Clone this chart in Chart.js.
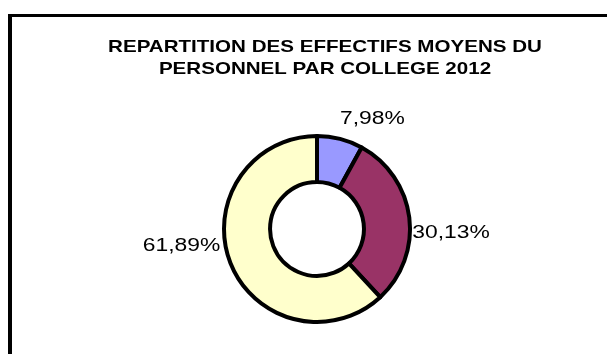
<!DOCTYPE html>
<html>
<head>
<meta charset="utf-8">
<script src="https://cdn.jsdelivr.net/npm/chart.js@4.4.1/dist/chart.umd.min.js"></script>
<style>
  html, body { margin: 0; padding: 0; background: #ffffff; }
  #wrap { width: 607px; height: 354px; position: relative; }
  canvas { display: block; }
</style>
</head>
<body>
<div id="wrap"><canvas id="chart" width="607" height="354"></canvas></div>
<script>
// Average staff split by college, 2012 (percent)
const categories = ['Collège 1', 'Collège 2', 'Collège 3'];
const shares = [7.98, 30.13, 61.89];
const sliceColors = ['#9999FF', '#993366', '#FFFFCC'];
const titleLines = ['REPARTITION DES EFFECTIFS MOYENS DU', 'PERSONNEL PAR COLLEGE 2012'];

const fmtPct = v => v.toFixed(2).replace('.', ',') + '%';

// Text drawn with a horizontal stretch (wide lettering)
function wideText(ctx, text, x, y, stretch) {
  ctx.save();
  ctx.translate(x, y);
  ctx.scale(stretch, 1);
  ctx.fillText(text, 0, 0);
  ctx.restore();
}

// Frame lines (top and left edge of the chart box) and the two-line title
const framePlugin = {
  id: 'frameAndTitle',
  beforeDraw(chart, args, opts) {
    const ctx = chart.ctx;
    ctx.save();
    ctx.fillStyle = '#ffffff';
    ctx.fillRect(0, 0, chart.width, chart.height);
    ctx.fillStyle = '#000000';
    ctx.fillRect(8, 14, chart.width - 8, 3);
    ctx.fillRect(8, 14, 4, chart.height - 14);
    ctx.restore();
  },
  afterDraw(chart, args, opts) {
    const ctx = chart.ctx;
    ctx.save();
    ctx.fillStyle = '#000000';
    ctx.font = opts.font;
    ctx.textAlign = 'center';
    ctx.textBaseline = 'alphabetic';
    opts.lines.forEach((t, i) => {
      wideText(ctx, t, opts.x, opts.y + i * opts.lineHeight, opts.stretch);
    });
    ctx.restore();
  }
};

// Percentage labels placed outside each slice, from the arc geometry
const pctLabels = {
  id: 'pctLabels',
  afterDatasetsDraw(chart, args, opts) {
    const ctx = chart.ctx;
    const meta = chart.getDatasetMeta(0);
    ctx.save();
    ctx.font = opts.font;
    ctx.fillStyle = '#000000';
    ctx.textBaseline = 'middle';
    meta.data.forEach((arc, i) => {
      const p = arc.getProps(['x', 'y', 'startAngle', 'endAngle', 'outerRadius'], true);
      const mid = (p.startAngle + p.endAngle) / 2;
      const r = p.outerRadius + opts.gap;
      const off = opts.nudge[i] || [0, 0];
      const ax = p.x + Math.cos(mid) * r + off[0];
      const ay = p.y + Math.sin(mid) * r + off[1];
      ctx.textAlign = Math.cos(mid) >= 0 ? 'left' : 'right';
      wideText(ctx, fmtPct(chart.data.datasets[0].data[i]), ax, ay, opts.stretch);
    });
    ctx.restore();
  }
};

new Chart(document.getElementById('chart'), {
  type: 'doughnut',
  data: {
    labels: categories,
    datasets: [{
      data: shares,
      backgroundColor: sliceColors,
      borderColor: '#000000',
      borderWidth: 4,
      borderJoinStyle: 'round'
    }]
  },
  options: {
    responsive: false,
    animation: false,
    radius: 93,
    cutout: '50.5%',
    layout: { padding: { left: 27, right: 0, top: 104, bottom: 0 } },
    plugins: {
      legend: { display: false },
      tooltip: { enabled: false },
      title: { display: false },
      frameAndTitle: {
        lines: titleLines,
        font: 'bold 17px "Liberation Sans", Arial, sans-serif',
        x: 325,
        y: 52,
        lineHeight: 21.5,
        stretch: 1.21
      },
      pctLabels: {
        font: '18px "Liberation Sans", Arial, sans-serif',
        gap: 12,
        stretch: 1.27,
        nudge: [[-3, -8], [-9, 17], [1, -21]]
      }
    }
  },
  plugins: [framePlugin, pctLabels]
});
</script>
</body>
</html>
